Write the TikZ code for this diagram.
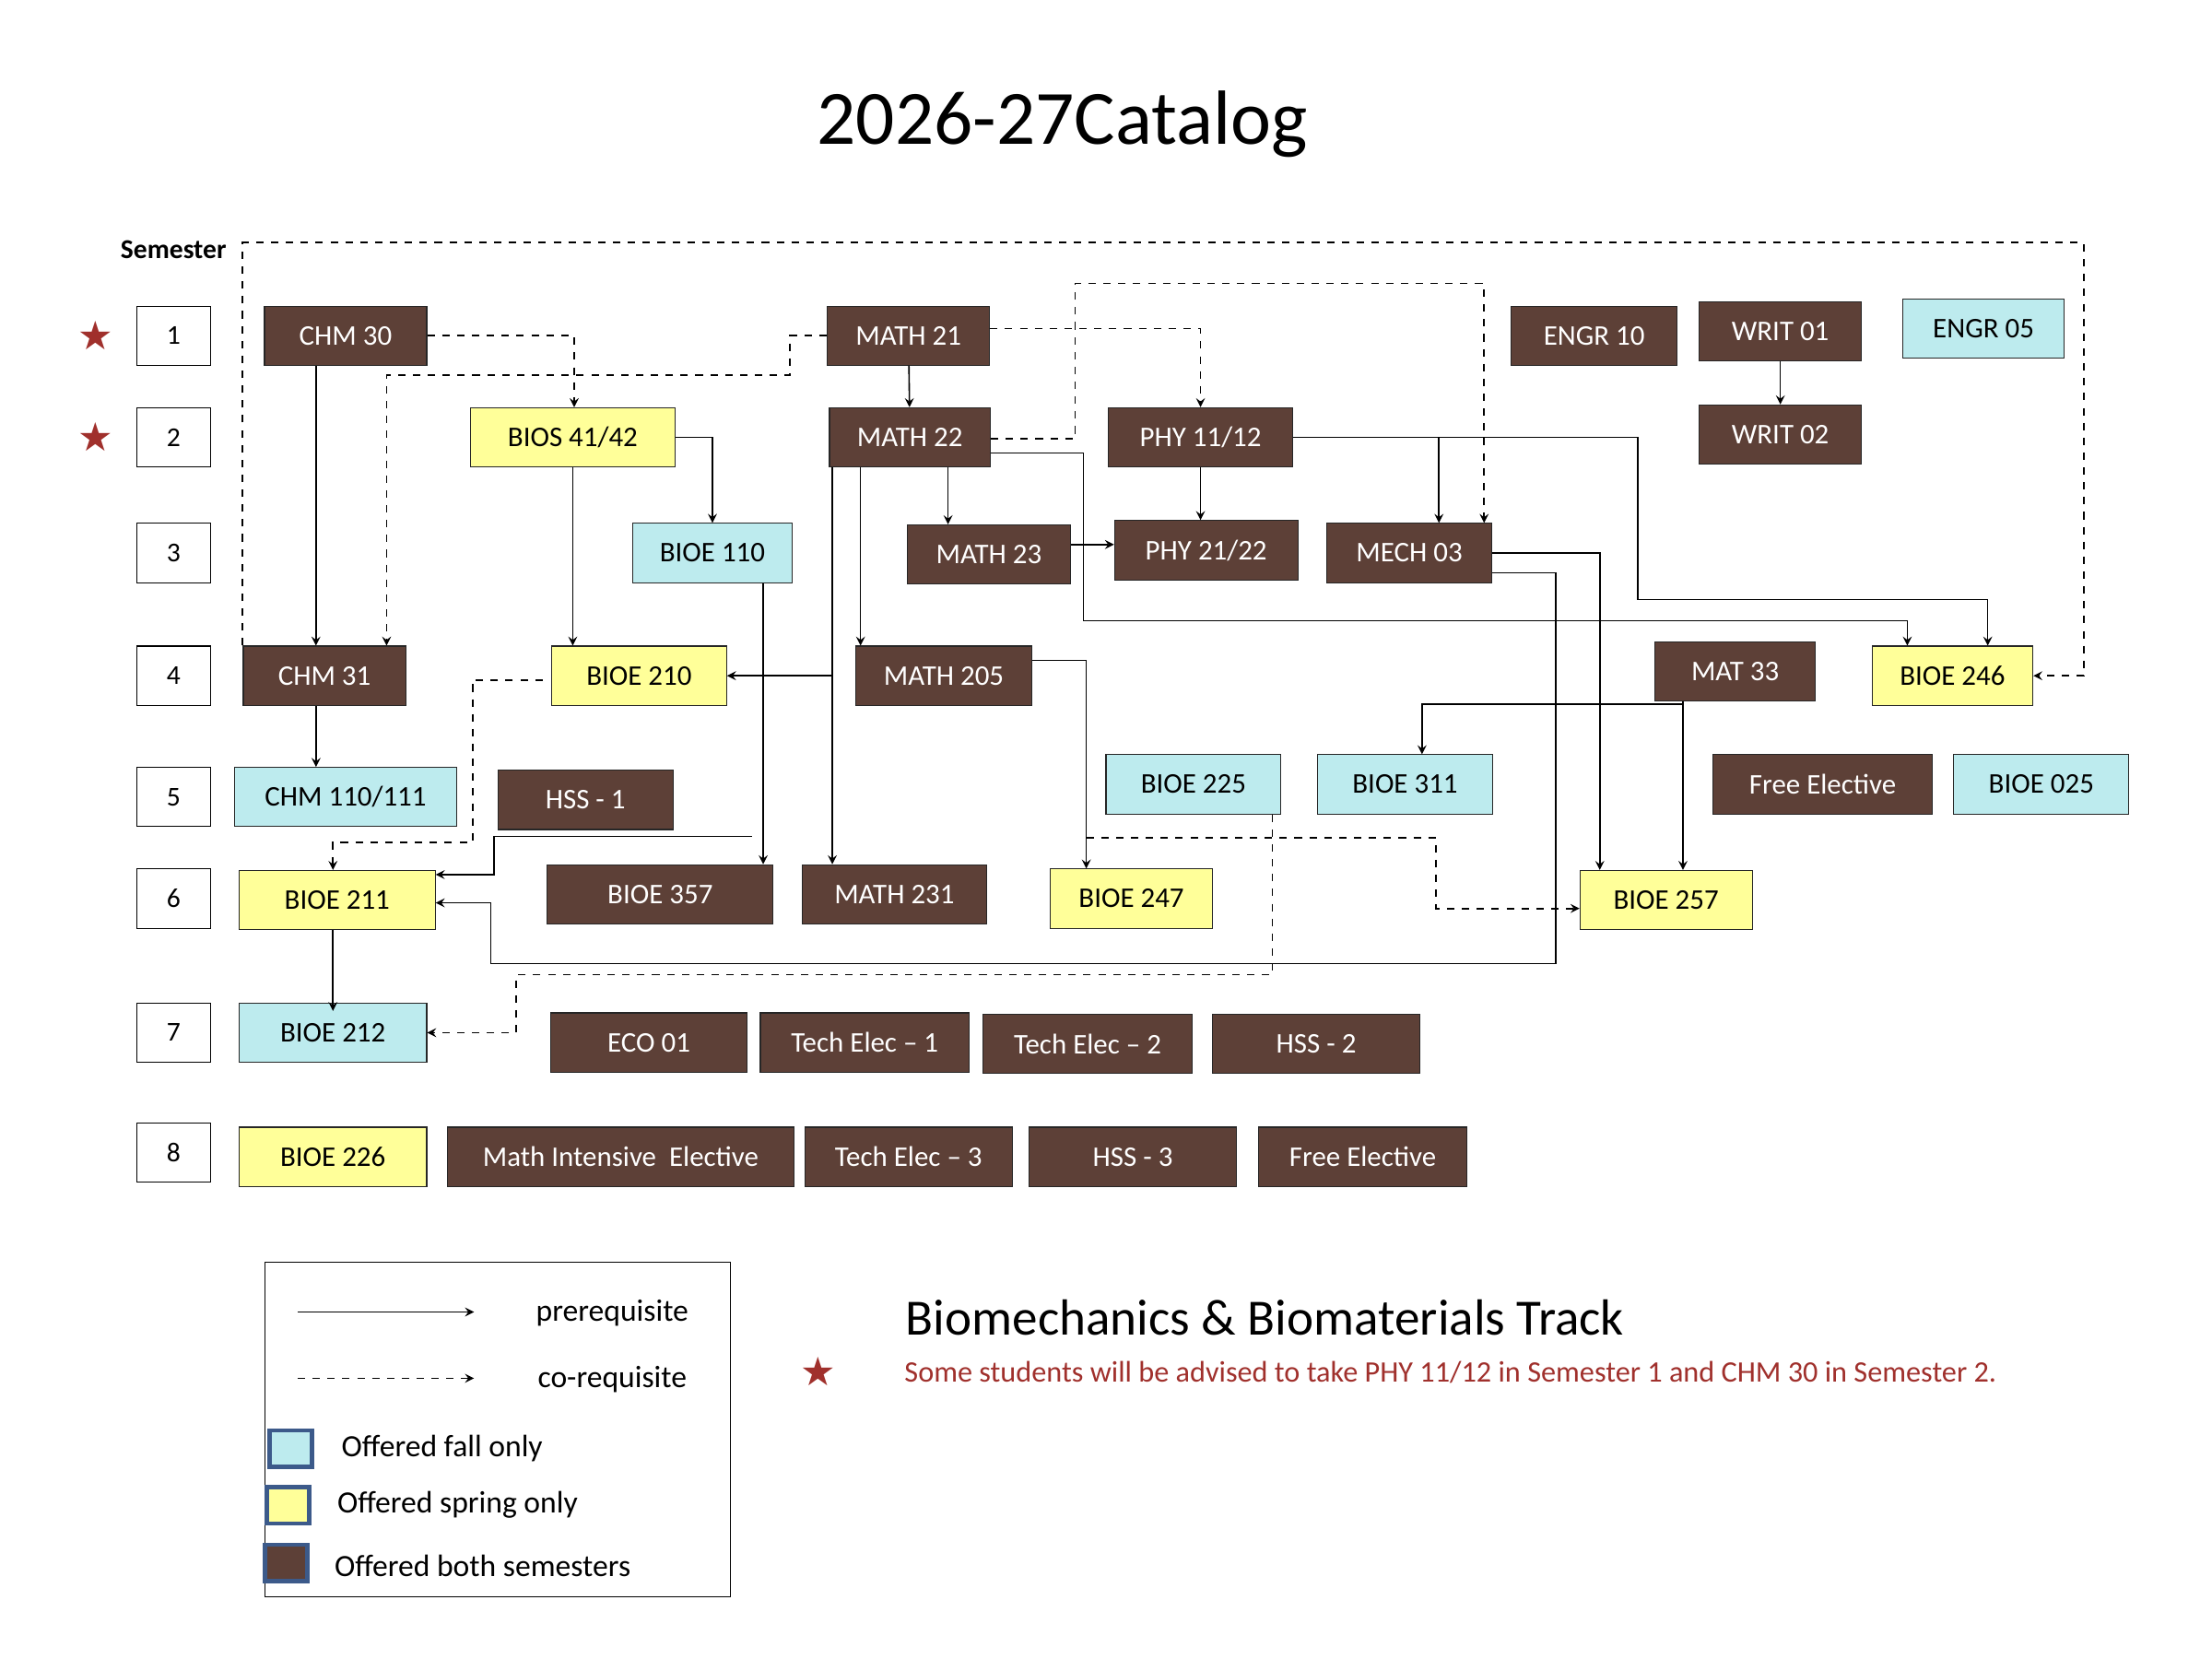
\documentclass[tikz,border=0pt]{standalone}
\usepackage{fontspec}
\setmainfont{Carlito}
\newfontfamily\symfont{DejaVu Sans}
\usetikzlibrary{arrows,shapes}
\definecolor{fallc}{RGB}{189,235,238}
\definecolor{springc}{RGB}{255,255,153}
\definecolor{bothc}{RGB}{93,64,55}
\definecolor{notec}{RGB}{160,48,44}
\definecolor{keyc}{RGB}{60,90,138}
\tikzset{
  course/.style={draw=black!85, minimum height=0.84cm, inner sep=0pt, font=\fontsize{11.5}{14}\selectfont, minimum width=#1*0.02cm},
  fall/.style={course=#1, fill=fallc},
  spring/.style={course=#1, fill=springc},
  both/.style={course=#1, fill=bothc, text=white},
  sem/.style={draw, minimum width=1.04cm, minimum height=0.84cm, inner sep=0pt, font=\fontsize{11}{13}\selectfont},
  pre/.style={draw, semithick, ->, >=stealth},
  co/.style={pre, dashed},
  key/.style={draw=keyc, line width=1.8pt, minimum width=0.6cm, minimum height=0.52cm, inner sep=0pt}
}
\begin{document}
\begin{tikzpicture}[x=0.02cm, y=-0.02cm]
    \useasboundingbox (0,0) rectangle (1568,1176);

    \node (title) at (753,88) {\fontsize{31}{36}\selectfont 2026-27Catalog};
    \node[font=\bfseries\fontsize{11}{13}\selectfont] (semester) at (123,177) {Semester};

    % semester rows
    \foreach \y/\n in {238/1, 310/2, 392/3, 479/4, 565/5, 637/6, 732/7, 817/8}
        \node[sem] (s\n) at (123,\y) {\n};
    \foreach \y/\n in {238/1, 310/2}
        \node[text=notec, font=\symfont\fontsize{16}{16}\selectfont] (star\n) at (68,\y) {★};

    % offered both semesters
    \foreach \x/\y/\w/\name/\txt in {
        245/238/115/chm30/CHM 30, 644/238/115/math21/MATH 21, 1130/238/118/engr10/ENGR 10,
        1262/235/115/writ01/WRIT 01, 645/310/114/math22/MATH 22, 851/310/131/phy11/{PHY 11/12},
        1262/308/115/writ02/WRIT 02, 701/393/116/math23/MATH 23, 855/390/130/phy21/{PHY 21/22},
        999/392/117/mech03/MECH 03, 230/479/115/chm31/CHM 31, 669/479/125/math205/MATH 205,
        1230/476/114/mat33/MAT 33, 415/567/124/hss1/HSS - 1, 1292/556/155/free1/Free Elective,
        468/634/160/bioe357/BIOE 357, 634/634/131/math231/MATH 231, 460/739/139/eco01/ECO 01,
        613/739/148/tech1/Tech Elec – 1, 771/740/148/tech2/Tech Elec – 2, 933/740/147/hss2/HSS - 2,
        440/820/246/mathint/Math Intensive\ \ Elective, 644/820/147/tech3/Tech Elec – 3,
        803/820/147/hss3/HSS - 3, 966/820/148/free2/Free Elective}
        \node[both=\w] (\name) at (\x,\y) {\txt};

    % offered fall only
    \foreach \x/\y/\w/\name/\txt in {
        1406/233/114/engr05/ENGR 05, 505/392/113/bioe110/BIOE 110, 245/565/157/chm110/{CHM 110/111},
        846/556/124/bioe225/BIOE 225, 996/556/124/bioe311/BIOE 311, 1447/556/124/bioe025/BIOE 025,
        236/732/133/bioe212/BIOE 212}
        \node[fall=\w] (\name) at (\x,\y) {\txt};

    % offered spring only
    \foreach \x/\y/\w/\name/\txt in {
        406/310/145/bios41/{BIOS 41/42}, 453/479/124/bioe210/BIOE 210, 1384/479/114/bioe246/BIOE 246,
        239/638/139/bioe211/BIOE 211, 802/637/115/bioe247/BIOE 247, 1181/638/122/bioe257/BIOE 257,
        236/820/133/bioe226/BIOE 226}
        \node[spring=\w] (\name) at (\x,\y) {\txt};

    % prerequisites
    \draw[pre] (chm30.south -| 224,0) -- (chm31.north -| 224,0);
    \draw[pre] (chm31.south -| 224,0) -- (chm110.north -| 224,0);
    \draw[pre] (bios41.south) -- (bioe210.north -| bios41.south);
    \draw[pre] (bios41.east) -| (bioe110.north);
    \draw[pre] (math21) -- (math22);
    \draw[pre] (writ01) -- (writ02);
    \draw[pre] (math22.south -| 672,0) -- (math23.north -| 672,0);
    \draw[pre] (math22.south -| 610,0) -- (math205.north -| 610,0);
    \draw[pre] (math22.south -| 590,0) -- (math231.north -| 590,0);
    \draw[pre] (bioe210.east -| 589,0) -- (bioe210.east);
    \draw[pre] (math22.east |- 0,321) -- (768,321) -- (768,440) -| (bioe246.north -| 1352,0);
    \draw[pre] (math23.east |- 0,386) -- (phy21.west |- 0,386);
    \draw[pre] (phy11.south) -- (phy21.north -| phy11.south);
    \draw[pre] (phy11.east) -- (1161,310) |- (1409,425) -- (bioe246.north -| 1409,0);
    \draw[pre] (phy11.east -| 1020,0) -- (mech03.north -| 1020,0);
    \draw[pre] (mech03.east |- 0,392) -| (bioe257.north -| 1134,0);
    \draw[pre] (mech03.east |- 0,406) -| (1103,683) -| (348,640) -- (bioe211.east |- 0,640);
    \draw[pre] (bioe110.south -| 541,0) -- (bioe357.north -| 541,0);
    \draw[pre] (533,593) -| (350,620) -- (bioe211.east |- 0,620);
    \draw[pre] (math205.east |- 0,468) -| (bioe247.north -| 770,0);
    \draw[pre] (mat33.south -| 1193,0) -- (bioe257.north -| 1193,0);
    \draw[pre] (1193,499) -| (bioe311.north -| 1008,0);
    \draw[pre] (bioe211.south -| 236,0) -- ([yshift=-0.12cm]bioe212.north -| 236,0);

    % co-requisites
    \draw[co] (chm30.east) -| (bios41.north -| 407,0);
    \draw[co] (math21.west) -- (560,238) |- (274,266) -- (chm31.north -| 274,0);
    \draw[co] (math21.east |- 0,233) -| (phy11.north);
    \draw[co] (math22.east |- 0,311) -- (762,311) |- (1052,201) -- (mech03.north -| 1052,0);
    \draw[co] (chm31.north -| 172,0) |- (1477,172) |- (bioe246.east);
    \draw[co] ([xshift=-0.12cm]bioe210.west |- 0,482) -- (335,482) |- (236,597) -- (bioe211.north -| 236,0);
    \draw[co] (bioe225.south -| 902,0) |- (366,691) |- (bioe212.east);
    \draw[co] (770,594) -| (1018,644) -- (bioe257.west |- 0,644);

    % legend
    \node[draw, minimum width=6.6cm, minimum height=4.74cm, inner sep=0pt] (legend) at (353,1013.5) {};
    \coordinate (p1) at (211,930);
    \coordinate (p2) at (336,930);
    \coordinate (c1) at (211,977);
    \coordinate (c2) at (336,977);
    \draw[pre] (p1) -- (p2);
    \draw[co] (c1) -- (c2);
    \node[font=\fontsize{12.5}{15}\selectfont] (tpre) at (434,931) {prerequisite};
    \node[font=\fontsize{12.5}{15}\selectfont] (tco) at (434,978) {co-requisite};
    \node[key, fill=fallc] (kfall) at (206,1027) {};
    \node[key, fill=springc] (kspring) at (204,1067) {};
    \node[key, fill=bothc] (kboth) at (203,1108) {};
    \node[anchor=west, font=\fontsize{12.5}{15}\selectfont] (tfall) at (236,1027) {Offered fall only};
    \node[anchor=west, font=\fontsize{12.5}{15}\selectfont] (tspring) at (233,1067) {Offered spring only};
    \node[anchor=west, font=\fontsize{12.5}{15}\selectfont] (tboth) at (231,1110) {Offered both semesters};

    % track note
    \node[anchor=west, font=\fontsize{20.5}{24}\selectfont] (track) at (636,934) {Biomechanics \& Biomaterials Track};
    \node[text=notec, font=\symfont\fontsize{16}{16}\selectfont] (star3) at (580,972) {★};
    \node[anchor=west, text=notec, font=\fontsize{12}{14}\selectfont] (note) at (635,973) {Some students will be advised to take PHY 11/12 in Semester 1 and CHM 30 in Semester 2.};
\end{tikzpicture}
\end{document}
